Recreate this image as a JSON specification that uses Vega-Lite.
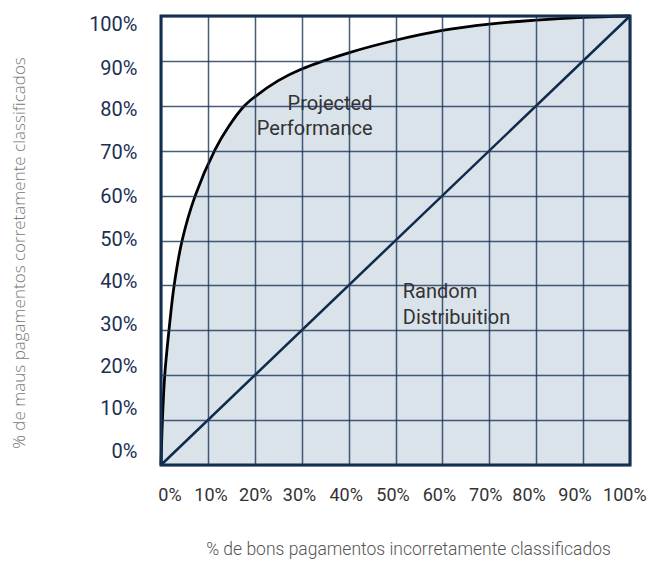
{
  "$schema": "https://vega.github.io/schema/vega-lite/v6.json",
  "width": 469,
  "height": 449,
  "autosize": {"type": "none"},
  "padding": {"left": 161, "top": 16, "right": 30, "bottom": 99},
  "background": "white",
  "config": {"view": {"stroke": null}, "font": "Roboto"},
  "datasets": {
    "curve": [
      {"x": 0, "y": 0},
      {"x": 0.3, "y": 10},
      {"x": 0.8, "y": 20},
      {"x": 1.7, "y": 30},
      {"x": 2.8, "y": 40},
      {"x": 4.5, "y": 50},
      {"x": 7.3, "y": 60},
      {"x": 11.5, "y": 70.2},
      {"x": 14.5, "y": 75.5},
      {"x": 17.6, "y": 79.8},
      {"x": 20, "y": 82},
      {"x": 25, "y": 85.6},
      {"x": 30, "y": 88.2},
      {"x": 40, "y": 91.8},
      {"x": 50, "y": 94.6},
      {"x": 60, "y": 96.8},
      {"x": 70, "y": 98.2},
      {"x": 80, "y": 99.1},
      {"x": 90, "y": 99.7},
      {"x": 100, "y": 100}
    ],
    "diag": [
      {"x": 0, "y": 0},
      {"x": 100, "y": 100}
    ],
    "border": [
      {"x": 0, "xe": 100, "y": 0, "ye": 100}
    ],
    "projected": [
      {"x": 45.1, "y": 80.4, "label": "Projected"},
      {"x": 45.1, "y": 74.8, "label": "Performance"}
    ],
    "random": [
      {"x": 51.55, "y": 38.6, "label": "Random"},
      {"x": 51.55, "y": 32.7, "label": "Distribuition"}
    ]
  },
  "layer": [
    {
      "data": {"name": "curve"},
      "mark": {"type": "area", "interpolate": "catmull-rom", "color": "#dae2ea"},
      "encoding": {
        "x": {
          "field": "x", "type": "quantitative",
          "scale": {"domain": [0, 100], "nice": false},
          "axis": {
            "values": [0, 10, 20, 30, 40, 50, 60, 70, 80, 90, 100],
            "labelExpr": "datum.value + '%'",
            "grid": true, "gridColor": "#1c3557", "gridWidth": 1.5, "gridOpacity": 0.8,
            "domain": false, "ticks": false, "tickSize": 0,
            "labelPadding": 21, "labelFontSize": 18, "labelColor": "#333333", "labelFont": "Roboto",
            "labelFlush": false, "labelOverlap": false, "labelBaseline": "top",
            "labelOffset": {"expr": "[8.5,2.6,0.5,-2.7,-3,-3,-3.5,-4,-7.7,-8.6,-5.7][round(datum.value/10)]"},
            "zindex": 1,
            "title": "% de bons pagamentos incorretamente classificados",
            "titleFont": "Roboto", "titleFontSize": 17.5, "titleFontWeight": 300, "titleColor": "#555555",
            "titleX": 247, "titleY": 84, "titleAlign": "center", "titleBaseline": "middle"
          }
        },
        "y": {
          "field": "y", "type": "quantitative",
          "scale": {"domain": [0, 100], "nice": false},
          "axis": {
            "values": [0, 10, 20, 30, 40, 50, 60, 70, 80, 90, 100],
            "labelExpr": "datum.value + '%'",
            "grid": true, "gridColor": "#1c3557", "gridWidth": 1.5, "gridOpacity": 0.8,
            "domain": false, "ticks": false, "tickSize": 0,
            "labelPadding": 24, "labelFontSize": 20, "labelColor": "#1b2f52", "labelFont": "Roboto",
            "labelOverlap": false, "labelFlush": false,
            "labelOffset": {"expr": "[-13.3,-11.3,-8.3,-6.2,-4,-0.7,1,2,3.5,7.8,8.8][round(datum.value/10)]"},
            "zindex": 1,
            "title": "% de maus pagamentos corretamente classificados",
            "titleFont": "Open Sans", "titleFontSize": 17, "titleFontWeight": 300, "titleColor": "#777777",
            "titleAngle": -90, "titleX": -142, "titleY": 236.5, "titleAlign": "center", "titleBaseline": "middle"
          }
        }
      }
    },
    {
      "data": {"name": "diag"},
      "mark": {"type": "line", "color": "#0f2a4a", "strokeWidth": 2.5},
      "encoding": {
        "x": {"field": "x", "type": "quantitative"},
        "y": {"field": "y", "type": "quantitative"}
      }
    },
    {
      "data": {"name": "curve"},
      "mark": {"type": "line", "interpolate": "catmull-rom", "color": "#000000", "strokeWidth": 2.8},
      "encoding": {
        "x": {"field": "x", "type": "quantitative"},
        "y": {"field": "y", "type": "quantitative"}
      }
    },
    {
      "data": {"name": "border"},
      "mark": {"type": "rect", "fill": null, "stroke": "#0f2a4a", "strokeWidth": 3, "zindex": 2},
      "encoding": {
        "x": {"field": "x", "type": "quantitative"},
        "x2": {"field": "xe"},
        "y": {"field": "y", "type": "quantitative"},
        "y2": {"field": "ye"}
      }
    },
    {
      "data": {"name": "projected"},
      "mark": {"type": "text", "align": "right", "baseline": "middle", "font": "Roboto", "fontSize": 20, "color": "#333333"},
      "encoding": {
        "x": {"field": "x", "type": "quantitative"},
        "y": {"field": "y", "type": "quantitative"},
        "text": {"field": "label"}
      }
    },
    {
      "data": {"name": "random"},
      "mark": {"type": "text", "align": "left", "baseline": "middle", "font": "Roboto", "fontSize": 20, "color": "#333333"},
      "encoding": {
        "x": {"field": "x", "type": "quantitative"},
        "y": {"field": "y", "type": "quantitative"},
        "text": {"field": "label"}
      }
    }
  ]
}
